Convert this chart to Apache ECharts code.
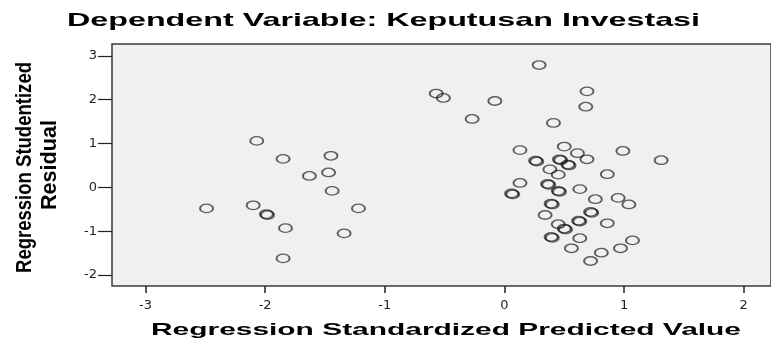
<!DOCTYPE html>
<html>
<head>
<meta charset="utf-8">
<script src="https://cdn.jsdelivr.net/npm/echarts@6/dist/echarts.min.js"></script>
<style>
html,body{margin:0;padding:0;background:#fff;}
#c{width:771px;height:342px;}
</style>
</head>
<body>
<div id="c"></div>
<script>
// ---- data ----
const titleText = 'Dependent Variable: Keputusan Investasi';
const xAxisTitle = 'Regression Standardized Predicted Value';
const yAxisTitleLines = ['Regression Studentized', 'Residual'];
const xTickValues = [-3, -2, -1, 0, 1, 2];
const yTickValues = [-2, -1, 0, 1, 2, 3];
const xValues = [
  -2.07, -1.85, -1.45, -1.63, -1.47, -1.44, -2.49, -2.10, -1.99, -1.98, -1.83, -1.34, -1.85, -1.22,
  0.29, -0.57, -0.51, -0.08, -0.27, 0.13, 0.26, 0.27, 0.13, 0.06, 0.07,
  0.69, 0.68, 0.41, 0.50, 0.61, 0.46, 0.47, 0.53, 0.54, 0.69, 0.99, 1.31,
  0.38, 0.45, 0.86, 0.36, 0.37, 0.45, 0.46, 0.63, 0.76, 0.95, 1.04,
  0.39, 0.40, 0.34, 0.72, 0.73, 0.45, 0.50, 0.51, 0.62, 0.63, 0.86,
  0.39, 0.40, 0.63, 0.56, 0.81, 0.97, 1.07, 0.72
];
const yValues = [
  1.06, 0.65, 0.72, 0.26, 0.34, -0.08, -0.48, -0.41, -0.61, -0.63, -0.93, -1.05, -1.62, -0.48,
  2.79, 2.14, 2.04, 1.97, 1.56, 0.85, 0.61, 0.59, 0.10, -0.14, -0.16,
  2.19, 1.84, 1.47, 0.93, 0.78, 0.64, 0.62, 0.52, 0.50, 0.64, 0.83, 0.62,
  0.41, 0.29, 0.30, 0.08, 0.06, -0.08, -0.10, -0.04, -0.27, -0.24, -0.39,
  -0.37, -0.39, -0.63, -0.56, -0.58, -0.84, -0.94, -0.96, -0.76, -0.78, -0.82,
  -1.13, -1.15, -1.16, -1.39, -1.49, -1.39, -1.21, -1.68
];

const points = xValues.map((x, i) => [x, yValues[i]]);

// measure helper for stretched text (the reference is horizontally stretched)
const mctx = document.createElement('canvas').getContext('2d');
function measure(txt, font) { mctx.font = font; return mctx.measureText(txt).width; }
const FF = '"Liberation Sans", Arial, sans-serif';

const titleFont = 'bold 19px ' + FF;
const titleScale = 633 / measure(titleText, titleFont);
const xtFont = 'bold 17px ' + FF;
const xtScale = 590 / measure(xAxisTitle, xtFont);
const ytFont = 'bold 16px ' + FF;
const yt1Scale = 211 / measure(yAxisTitleLines[0], ytFont);
const yt2Scale = 90 / measure(yAxisTitleLines[1], ytFont);

const chart = echarts.init(document.getElementById('c'), null, {renderer: 'canvas'});
chart.setOption({
  backgroundColor: '#ffffff',
  animation: false,
  grid: {
    left: 112, top: 44, right: -3, bottom: 56,
    show: true, backgroundColor: '#f0f0f0', borderColor: '#3a3a3a', borderWidth: 1.5
  },
  xAxis: {
    type: 'value', min: -3.28, max: 2.228, position: 'bottom',
    axisLine: {show: false, onZero: false},
    splitLine: {show: false},
    axisTick: {show: true, length: 7, lineStyle: {color: '#222', width: 1.5}, customValues: xTickValues},
    axisLabel: {show: true, customValues: xTickValues, margin: 13, fontSize: 13, color: '#222', fontFamily: 'DejaVu Sans'}
  },
  yAxis: {
    type: 'value', min: -2.25, max: 3.27, position: 'left',
    axisLine: {show: false, onZero: false},
    splitLine: {show: false},
    axisTick: {show: true, length: 14, lineStyle: {color: '#222', width: 1.2}, customValues: yTickValues},
    axisLabel: {show: true, customValues: yTickValues, margin: 15, fontSize: 13, color: '#222', fontFamily: 'DejaVu Sans'}
  },
  series: [{
    type: 'scatter',
    data: points,
    symbol: 'circle',
    symbolSize: [13, 8.5],
    itemStyle: {color: 'rgba(0,0,0,0)', borderColor: 'rgba(10,10,10,0.8)', borderWidth: 1.6}
  }],
  graphic: [
    {type: 'text', x: 67, y: 21, scaleX: titleScale,
     style: {text: titleText, font: titleFont, fill: '#000', align: 'left', verticalAlign: 'middle'}},
    {type: 'text', x: 151, y: 330, scaleX: xtScale,
     style: {text: xAxisTitle, font: xtFont, fill: '#000', align: 'left', verticalAlign: 'middle'}},
    {type: 'text', x: 25, y: 167.5, rotation: Math.PI / 2, scaleX: yt1Scale, scaleY: 1.35,
     style: {text: yAxisTitleLines[0], font: ytFont, fill: '#000', align: 'center', verticalAlign: 'middle'}},
    {type: 'text', x: 50, y: 165, rotation: Math.PI / 2, scaleX: yt2Scale, scaleY: 1.35,
     style: {text: yAxisTitleLines[1], font: ytFont, fill: '#000', align: 'center', verticalAlign: 'middle'}}
  ]
});
</script>
</body>
</html>
